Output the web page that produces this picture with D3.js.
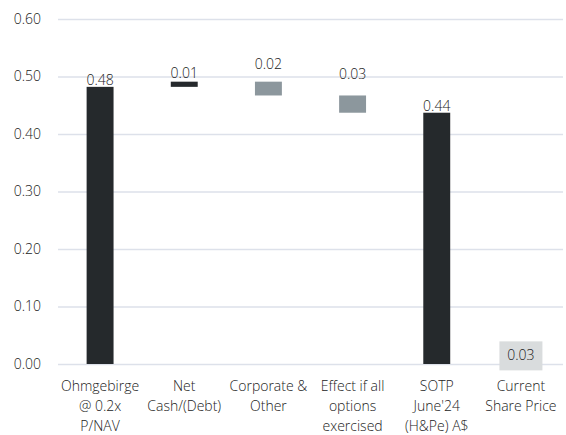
<!DOCTYPE html>
<html>
<head>
<meta charset="utf-8">
<script src="https://cdn.jsdelivr.net/npm/d3@7"></script>
<style>
  body { margin: 0; background: #fff; }
  text { font-family: "Open Sans", sans-serif; font-weight: 300; fill: #222; }
</style>
</head>
<body>
<div id="chart"></div>
<script>
// categories (line breaks as in the source)
var categories = [
    ["Ohmgebirge", "@ 0.2x", "P/NAV"],
    ["Net", "Cash/(Debt)"],
    ["Corporate &", "Other"],
    ["Effect if all", "options", "exercised"],
    ["SOTP", "June'24", "(H&Pe) A$"],
    ["Current", "Share Price"]
];
// step values: "total" bars start at zero, "delta" bars float from running total
var kinds = ["total", "delta", "delta", "delta", "total", "price"];
var values = [0.482, 0.009, -0.024, -0.030, 0.437, 0.03];
var yTicks = [0, 0.1, 0.2, 0.3, 0.4, 0.5, 0.6];

var width = 566, height = 435;
var margin = {top: 19, right: 3, bottom: 71, left: 58};
var fontSize = 14;

var svg = d3.select("#chart").append("svg")
    .attr("width", width)
    .attr("height", height);

var x = d3.scaleBand()
    .domain(d3.range(categories.length))
    .range([margin.left, width - margin.right])
    .paddingInner(0.68)
    .paddingOuter(0.34);

var y = d3.scaleLinear()
    .domain([0, 0.6])
    .range([height - margin.bottom, margin.top]);

// gridlines + tick labels
var yAxis = svg.append("g")
    .attr("transform", "translate(" + margin.left + ",0)")
    .call(d3.axisLeft(y).tickValues(yTicks).tickFormat(d3.format(".2f"))
        .tickSize(-(width - margin.left - margin.right)).tickPadding(17));
yAxis.select(".domain").remove();
yAxis.selectAll("line").attr("stroke", "#dde1ea").attr("stroke-width", 1.5);
yAxis.selectAll("text").attr("font-size", fontSize).attr("fill", "#222")
    .attr("font-family", "Open Sans, sans-serif").attr("font-weight", 300);

// work out the floating segments
var running = 0;
var bars = values.map(function(v, i) {
    var b = {i: i, kind: kinds[i], v: v};
    if (kinds[i] === "delta") {
        b.y0 = running; b.y1 = running + v; running += v;
    } else {
        b.y0 = 0; b.y1 = v;
        if (kinds[i] === "total") running = v;
    }
    b.lo = Math.min(b.y0, b.y1);
    b.hi = Math.max(b.y0, b.y1);
    return b;
});

var colour = function(b) {
    if (b.kind === "delta" && b.v < 0) return "#8c979d";
    return "#25292c";
};

svg.append("g").selectAll("rect")
    .data(bars.filter(function(b) { return b.kind !== "price"; }))
    .enter().append("rect")
    .attr("x", function(b) { return x(b.i); })
    .attr("width", x.bandwidth())
    .attr("y", function(b) { return y(b.hi); })
    .attr("height", function(b) { return y(b.lo) - y(b.hi); })
    .attr("fill", colour);

// value labels
var fmt = d3.format(".2f");
svg.append("g").selectAll("text")
    .data(bars.filter(function(b) { return b.kind !== "price"; }))
    .enter().append("text")
    .attr("x", function(b) { return x(b.i) + x.bandwidth() / 2; })
    .attr("y", function(b) {
        // floating bars get their label lifted by the bar's own height
        if (b.kind === "delta") return y(b.hi + (b.hi - b.lo)) + 1;
        return y(b.hi) - 2;
    })
    .attr("text-anchor", "middle")
    .attr("font-size", fontSize)
    .text(function(b) { return fmt(Math.abs(b.v)); });

// current share price shown as a boxed label on the axis
var p = bars[5];
var pg = svg.append("g")
    .attr("transform", "translate(" + (x(p.i) + x.bandwidth() / 2) + "," + y(p.v / 2) + ")");
pg.append("rect")
    .attr("x", -21.5).attr("y", -14)
    .attr("width", 43).attr("height", 29)
    .attr("fill", "#d9dcdd");
pg.append("text")
    .attr("text-anchor", "middle")
    .attr("dy", "0.35em")
    .attr("font-size", fontSize)
    .text(fmt(p.v));

// category labels
var xl = svg.append("g").selectAll("text")
    .data(categories)
    .enter().append("text")
    .attr("x", function(d, i) { return x(i) + x.bandwidth() / 2; })
    .attr("y", height - margin.bottom + 27)
    .attr("text-anchor", "middle")
    .attr("font-size", fontSize);
xl.selectAll("tspan")
    .data(function(d) { return d; })
    .enter().append("tspan")
    .attr("x", function() { return d3.select(this.parentNode).attr("x"); })
    .attr("dy", function(d, j) { return j === 0 ? 0 : 20; })
    .text(function(d) { return d; });
</script>
</body>
</html>
